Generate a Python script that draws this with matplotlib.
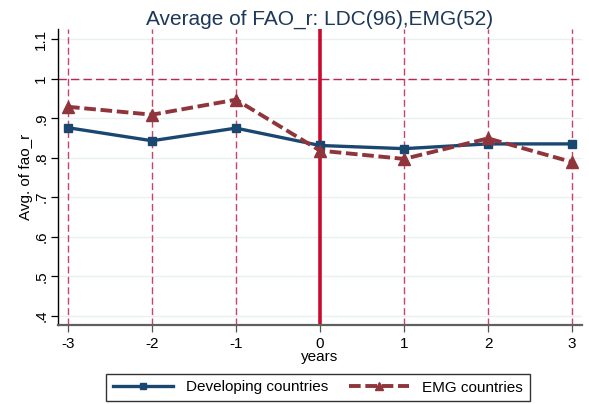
import matplotlib
matplotlib.use("Agg")
import matplotlib.pyplot as plt

# average of fao_r around year 0
years = [-3, -2, -1, 0, 1, 2, 3]
ldc_avg = [0.876, 0.843, 0.875, 0.831, 0.823, 0.835, 0.835]
emg_avg = [0.929, 0.909, 0.947, 0.818, 0.797, 0.849, 0.789]
y_ticks = [0.4, 0.5, 0.6, 0.7, 0.8, 0.9, 1.0, 1.1]
y_tick_labels = [".4", ".5", ".6", ".7", ".8", ".9", "1", "1.1"]

plt.rcParams['font.family'] = ['Liberation Sans', 'DejaVu Sans']

fig = plt.figure(figsize=(5.89, 4.04), dpi=100)
ax = fig.add_axes([58 / 589, 1 - 325 / 404, (582 - 58) / 589, (325 - 29) / 404])

ax.set_xlim(-3.119, 3.119)
ax.set_ylim(0.3764, 1.126)

# light horizontal grid
for yt in y_ticks:
    ax.axhline(yt, color="#eaf1f3", lw=1.0, zorder=0)

# reference lines
ref_col = "#c8426a"
for x in years:
    if x != 0:
        ax.axvline(x, color=ref_col, lw=1.0, ls=(0, (5, 2.5)), zorder=1)
ax.axhline(1.0, color="#b8284f", lw=1.0, ls=(0, (6, 3)), zorder=1)
ax.axvline(0, color="#cc0a2f", lw=2.6, zorder=1)

ax.plot(years, ldc_avg, color="#1a476f", lw=2.4, marker="s", ms=6,
        label="Developing countries", zorder=3)
ax.plot(years, emg_avg, color="#90353b", lw=2.8, ls=(0, (3, 1.2)), marker="^", ms=8,
        label="EMG countries", zorder=4)

ax.set_xticks(years)
ax.set_xticklabels([str(x) for x in years])
ax.set_yticks(y_ticks)
ax.set_yticklabels(y_tick_labels, rotation=90, va="center")
ax.tick_params(axis="both", direction="out", length=5, width=0.9, labelsize=11,
               colors="black")
ax.tick_params(axis="x", pad=4, color="#555555")
ax.tick_params(axis="y", pad=2)

for s in ["top", "right"]:
    ax.spines[s].set_visible(False)
ax.spines["left"].set_color("black")
ax.spines["left"].set_linewidth(1.0)
ax.spines["bottom"].set_color("#606060")
ax.spines["bottom"].set_linewidth(1.6)

ax.set_xlabel("years", fontsize=11, labelpad=-1)
ax.set_ylabel("Avg. of fao_r", fontsize=11, labelpad=1)
ax.set_title("Average of FAO_r: LDC(96),EMG(52)", fontsize=15, color="#1e3859", pad=3)

leg = fig.legend(loc="center", bbox_to_anchor=(318 / 589, 1 - 387.5 / 404), ncol=2,
                 frameon=True, fancybox=False, edgecolor="black", fontsize=11,
                 handlelength=3.9, handletextpad=0.85, columnspacing=1.4,
                 borderpad=0.45, markerscale=0.8)
leg.get_frame().set_linewidth(1.0)

fig.savefig("out.png", dpi=100)
